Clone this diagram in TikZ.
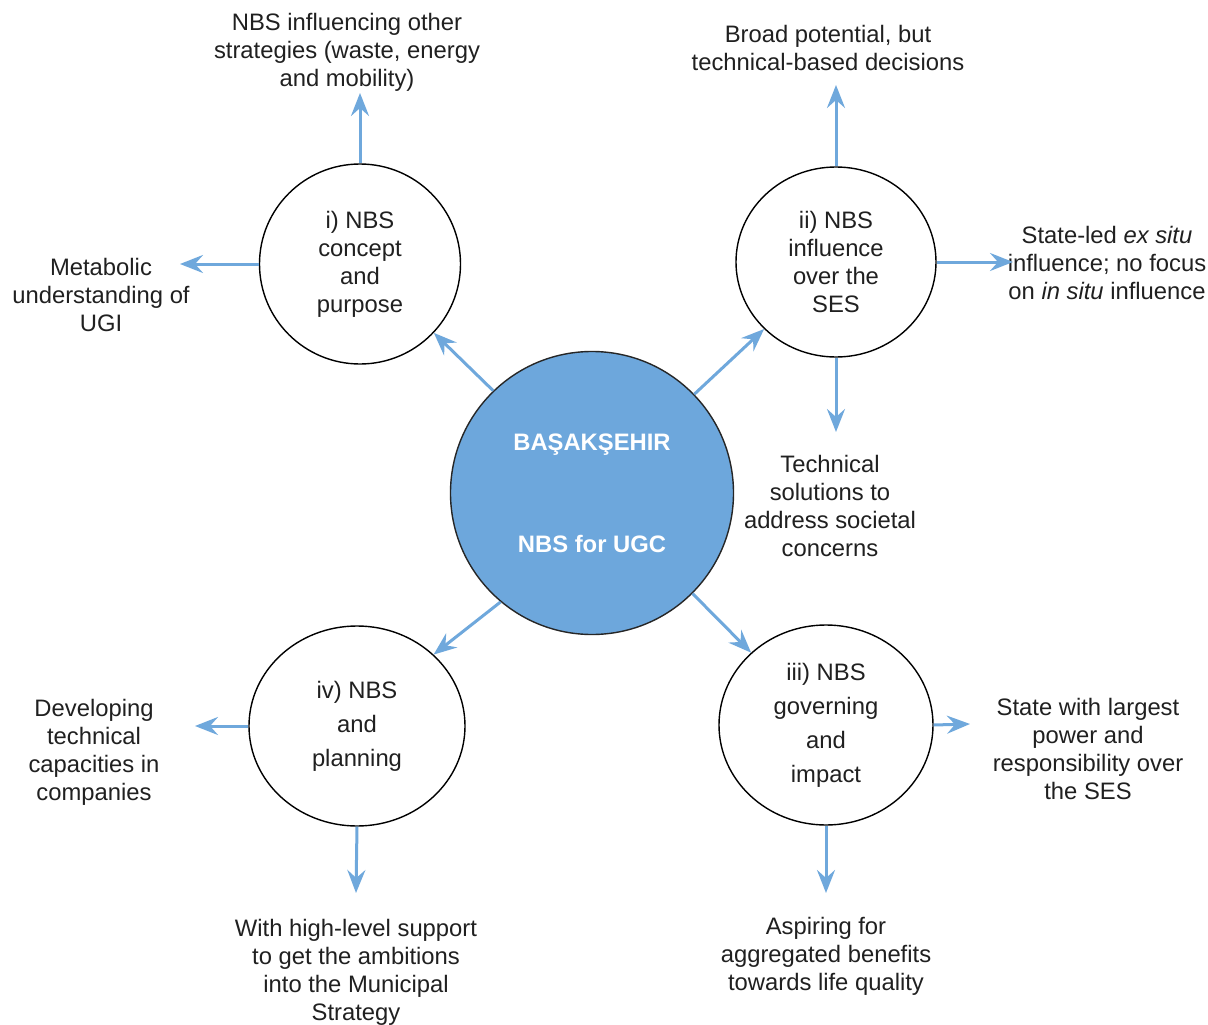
\documentclass[tikz,border=0pt]{standalone}
\usepackage{fontspec}
\setmainfont{Liberation Sans}
\usetikzlibrary{arrows.meta,shapes.geometric}
\definecolor{arrowblue}{HTML}{6FA8DC}
\definecolor{hubblue}{HTML}{6DA7DC}
\definecolor{ink}{HTML}{202020}
\tikzset{
  txt/.style={align=center,text=ink,inner sep=0pt,
    font=\fontsize{23.8}{28}\selectfont},
  topic/.style={ellipse,draw=black,line width=1.4pt,fill=white,inner sep=0pt,
    align=center,text=ink},
  tight/.style={font=\fontsize{23.8}{28}\selectfont},
  loose/.style={font=\fontsize{23.8}{34}\selectfont},
  hub/.style={circle,draw=black!85,line width=1.4pt,fill=hubblue,inner sep=0pt,
    minimum size=283pt,align=center,text=white,
    font=\bfseries\fontsize{23.8}{102}\selectfont},
  arr/.style={draw=arrowblue,line width=3pt,
    -{Stealth[length=23pt,width=18pt,inset=8pt]}}
}
\begin{document}
\begin{tikzpicture}[x=1pt,y=-1pt]
\clip (0,0) rectangle (1208,1025);
\fill[white] (0,0) rectangle (1208,1025);

% hub and the four topic circles
\node[hub] (cc) at (592,493) {BAŞAKŞEHIR\\NBS for UGC};
\node[topic,tight,minimum width=201pt,minimum height=200pt] (ci) at (360,264)
  {i) NBS\\concept\\and\\purpose};
\node[topic,tight,minimum width=200pt,minimum height=190pt] (cii) at (836,262)
  {ii) NBS\\influence\\over the\\SES};
\node[topic,loose,minimum width=214pt,minimum height=200pt] (ciii) at (826,725)
  {iii) NBS\\governing\\and\\impact};
\node[topic,loose,minimum width=216pt,minimum height=200pt] (civ) at (357,726)
  {iv) NBS\\and\\planning};

% findings around each topic
\node[txt] (t1) at (347,52) {NBS influencing other\\strategies (waste, energy\\and mobility)};
\node[txt] (t2) at (828,48) {Broad potential, but\\technical-based decisions};
\node[txt] (t3) at (1107,263) {State-led \textit{ex situ}\\influence; no focus\\on \textit{in situ} influence};
\node[txt] (t4) at (101,295) {Metabolic\\understanding of\\UGI};
\node[txt] (t5) at (830,506) {Technical\\solutions to\\address societal\\concerns};
\node[txt] (t6) at (94,752) {Developing\\technical\\capacities in\\companies};
\node[txt] (t7) at (356,972) {With high-level support\\to get the ambitions\\into the Municipal\\Strategy};
\node[txt] (t8) at (826,956) {Aspiring for\\aggregated benefits\\towards life quality};
\node[txt] (t9) at (1088,749) {State with largest\\power and\\responsibility over\\the SES};

% arrow tips pointing at the findings
\coordinate (a1) at (360,93);
\coordinate (a4) at (180,264);
\coordinate (a2) at (836,85);
\coordinate (a3) at (1013,262);
\coordinate (a5) at (836,432);
\coordinate (a9) at (970,724);
\coordinate (a8) at (826,893);
\coordinate (a6) at (195,726);
\coordinate (a7) at (356,893);

% hub to topics
\draw[arr] (cc.134) -- (ci.-43);
\draw[arr] (cc.44) -- (cii.223);
\draw[arr] (cc.-45) -- (ciii.136);
\draw[arr] (cc.230) -- (civ.43);

% topics to findings
\draw[arr] (ci.north) -- (a1);
\draw[arr] (ci.west) -- (a4);
\draw[arr] (cii.north) -- (a2);
\draw[arr] (cii.east) -- (a3);
\draw[arr] (cii.south) -- (a5);
\draw[arr] (ciii.east) -- (a9);
\draw[arr] (ciii.south) -- (a8);
\draw[arr] (civ.west) -- (a6);
\draw[arr] (civ.south) -- (a7);
\end{tikzpicture}
\end{document}
